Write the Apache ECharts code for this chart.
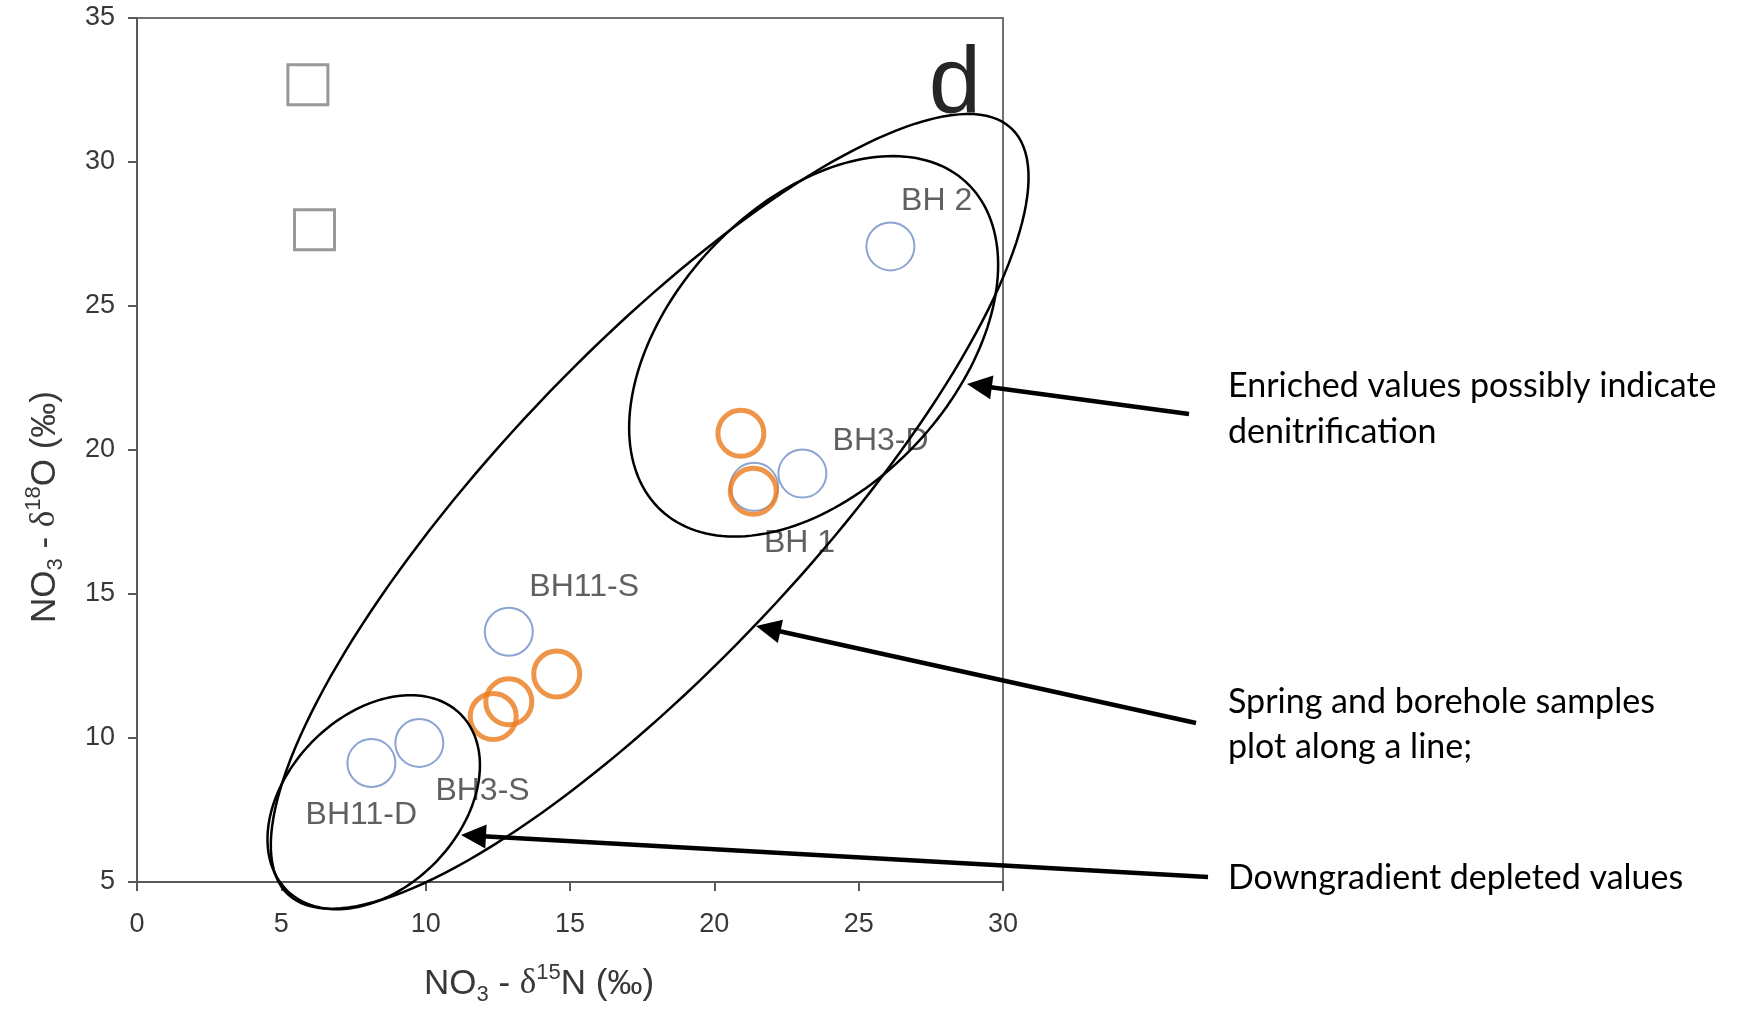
<!DOCTYPE html>
<html><head><meta charset="utf-8">
<script src="https://cdn.jsdelivr.net/npm/echarts@6/dist/echarts.min.js"></script>
<style>html,body{margin:0;padding:0;background:#fff}#c{width:1750px;height:1011px}</style>
</head><body><div id="c"></div>
<script>
// ---- data ----
const squareX = [5.92, 6.15];
const squareY = [32.68, 27.65];
const blueNames = ['BH 2', 'BH3-D', 'BH 1', 'BH11-S', 'BH3-S', 'BH11-D'];
const blueX = [26.10, 23.05, 21.38, 12.88, 9.78, 8.12];
const blueY = [27.07, 19.18, 18.72, 13.69, 9.83, 9.13];
const orangeX = [20.92, 21.35, 14.54, 12.88, 12.34];
const orangeY = [20.58, 18.57, 12.22, 11.26, 10.75];
// label anchors (data units)
const labelNames = ['BH 2', 'BH3-D', 'BH 1', 'BH11-S', 'BH3-S', 'BH11-D'];
const labelX = [27.70, 25.76, 22.95, 15.49, 11.97, 7.77];
const labelY = [28.63, 20.31, 16.75, 15.25, 8.15, 7.32];
// grouping ellipses (data units): centre, semi-axes, rotation (deg)
const ellipseCX = [23.44, 17.76, 8.20];
const ellipseCY = [23.60, 17.87, 7.77];
const ellipseA = [7.77, 18.27, 4.29];
const ellipseB = [4.91, 5.37, 2.99];
const ellipseAngle = [47.2, 46.7, 45.8];
const xTicks = [0, 5, 10, 15, 20, 25, 30];
const yTicks = [5, 10, 15, 20, 25, 30, 35];
const panelLetter = 'd';
const notes = [
  ['Enriched values possibly indicate', 'denitrification'],
  ['Spring and borehole samples', 'plot along a line;'],
  ['Downgradient depleted values']
];

// ---- build ----
const chart = echarts.init(document.getElementById('c'));
const zip2 = (a, b) => a.map((v, i) => [v, b[i]]);
const axisFont = 'Liberation Sans';
const txt = '#383838';
const rich = {
  n: {fontSize: 35, fontFamily: axisFont, color: txt, lineHeight: 44, verticalAlign: 'middle'},
  d: {fontSize: 35, fontFamily: 'Liberation Serif', color: txt, lineHeight: 44, verticalAlign: 'middle'},
  sub: {fontSize: 22, fontFamily: axisFont, color: txt, lineHeight: 20, verticalAlign: 'bottom'},
  sup: {fontSize: 22, fontFamily: axisFont, color: txt, lineHeight: 22, verticalAlign: 'top'}
};

function arrow(x1, y1, x2, y2) {
  const L = 25, W = 12;
  const dx = x2 - x1, dy = y2 - y1, len = Math.hypot(dx, dy);
  const ux = dx / len, uy = dy / len;
  const bx = x2 - ux * L, by = y2 - uy * L;
  return [
    {type: 'line', shape: {x1: x1, y1: y1, x2: bx + ux * 3, y2: by + uy * 3}, style: {stroke: '#000', lineWidth: 4.5}},
    {type: 'polygon', shape: {points: [[x2, y2], [bx - uy * W, by + ux * W], [bx + uy * W, by - ux * W]]}, style: {fill: '#000'}}
  ];
}

const noteFont = '34px Lato';
const graphics = [
  {type: 'text', x: 955, y: 87, style: {text: panelLetter, font: 'normal 94px Liberation Sans', fill: '#262626', textAlign: 'center', textVerticalAlign: 'middle'}, z: 10},
  {type: 'text', x: 1228, y: 386, style: {text: notes[0][0], font: noteFont, fill: '#000', textVerticalAlign: 'middle'}},
  {type: 'text', x: 1228, y: 432, style: {text: notes[0][1], font: noteFont, fill: '#000', textVerticalAlign: 'middle'}},
  {type: 'text', x: 1228, y: 702, style: {text: notes[1][0], font: noteFont, fill: '#000', textVerticalAlign: 'middle'}},
  {type: 'text', x: 1228, y: 747, style: {text: notes[1][1], font: noteFont, fill: '#000', textVerticalAlign: 'middle'}},
  {type: 'text', x: 1228, y: 878, style: {text: notes[2][0], font: noteFont, fill: '#000', textVerticalAlign: 'middle'}}
].concat(arrow(1189, 414, 967, 384), arrow(1196, 723, 756, 626), arrow(1208, 877, 461, 835));

const axisCommon = {
  type: 'value',
  splitLine: {show: false},
  axisLine: {show: true, onZero: false, lineStyle: {color: '#595959', width: 2}},
  axisTick: {show: true, inside: false, length: 9, lineStyle: {color: '#595959', width: 2}},
  axisLabel: {fontSize: 27, fontFamily: axisFont, color: txt}
};

chart.setOption({
  animation: false,
  backgroundColor: '#fff',
  grid: {left: 137, right: 747, top: 18, bottom: 127, show: true, borderColor: '#707070', borderWidth: 2},
  xAxis: Object.assign({}, axisCommon, {
    min: xTicks[0], max: xTicks[xTicks.length - 1], interval: 5,
    axisLabel: Object.assign({}, axisCommon.axisLabel, {margin: 29}),
    name: '{n|NO}{sub|3}{n| - }{d|δ}{sup|15}{n|N (‰)}',
    nameLocation: 'middle', nameGap: 80,
    nameTextStyle: {rich: rich, padding: [0, 62, 0, 0]}
  }),
  yAxis: Object.assign({}, axisCommon, {
    min: yTicks[0], max: yTicks[yTicks.length - 1], interval: 5,
    axisLabel: Object.assign({}, axisCommon.axisLabel, {margin: 22}),
    name: '{n|NO}{sub|3}{n| - }{d|δ}{sup|18}{n|O (‰)}',
    nameLocation: 'middle', nameGap: 70, nameRotate: 90,
    nameTextStyle: {rich: rich, padding: [0, 114, 0, 0]}
  }),
  graphic: graphics,
  series: [
    {
      type: 'scatter', name: 'squares', z: 2,
      symbol: 'rect', symbolSize: 40,
      itemStyle: {color: 'rgba(0,0,0,0)', borderColor: '#808080', borderWidth: 3},
      data: zip2(squareX, squareY)
    },
    {
      type: 'scatter', name: 'labels', z: 2,
      symbolSize: 0,
      label: {show: true, position: [0, 0], align: 'center', verticalAlign: 'middle',
        formatter: p => p.value[2], fontSize: 32, fontFamily: axisFont, color: txt},
      data: labelX.map((x, i) => [x, labelY[i], labelNames[i]])
    },
    {
      type: 'scatter', name: 'boreholes', z: 3,
      symbol: 'circle', symbolSize: 48,
      itemStyle: {color: 'rgba(0,0,0,0)', borderColor: '#6E8DC5', borderWidth: 2},
      data: blueX.map((x, i) => [x, blueY[i], blueNames[i]])
    },
    {
      type: 'scatter', name: 'springs', z: 4,
      symbol: 'circle', symbolSize: 46,
      itemStyle: {color: 'rgba(0,0,0,0)', borderColor: '#EB7B1C', borderWidth: 5},
      data: zip2(orangeX, orangeY)
    },
    {
      type: 'custom', name: 'ellipses', z: 5, clip: false,
      encode: {x: 0, y: 1},
      renderItem: function (params, api) {
        const cx = api.value(0), cy = api.value(1), a = api.value(2), b = api.value(3);
        const ang = api.value(4) * Math.PI / 180;
        const pts = [];
        for (let i = 0; i < 180; i++) {
          const t = i / 180 * 2 * Math.PI;
          const u = a * Math.cos(t), v = b * Math.sin(t);
          pts.push(api.coord([cx + u * Math.cos(ang) - v * Math.sin(ang), cy + u * Math.sin(ang) + v * Math.cos(ang)]));
        }
        return {type: 'polygon', shape: {points: pts}, style: {fill: 'none', stroke: '#000', lineWidth: 2.5}};
      },
      data: ellipseCX.map((x, i) => [x, ellipseCY[i], ellipseA[i], ellipseB[i], ellipseAngle[i]])
    }
  ]
});
</script>
</body></html>
